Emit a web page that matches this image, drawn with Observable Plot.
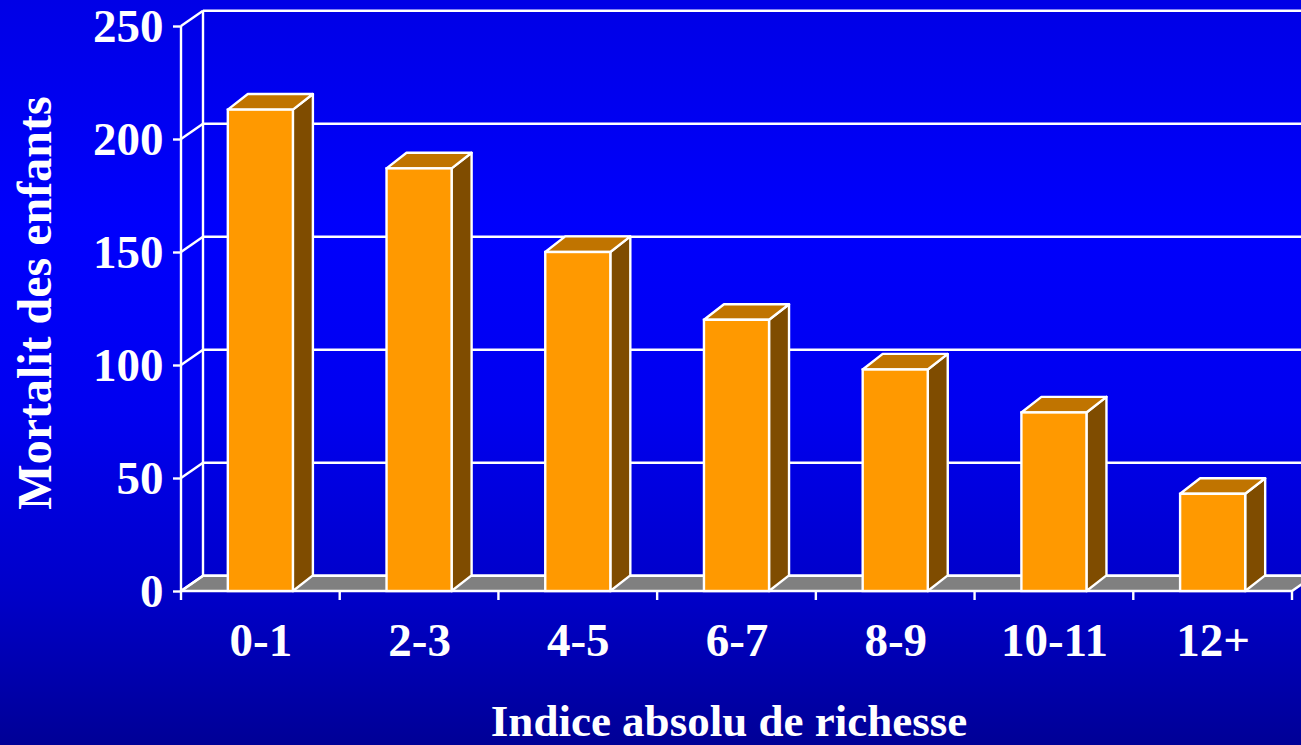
<!DOCTYPE html>
<html>
<head>
<meta charset="utf-8">
<script src="https://cdn.jsdelivr.net/npm/d3@7"></script>
<script src="https://cdn.jsdelivr.net/npm/@observablehq/plot@0.6"></script>
<style>
  html, body { margin: 0; padding: 0; width: 1301px; height: 745px; overflow: hidden; }
  body { background: linear-gradient(to bottom, #0000e6 0%, #0000fc 30%, #0000f0 55%, #0000c8 80%, #000096 100%); }
  #chart svg { display: block; background: transparent; }
</style>
</head>
<body>
<div id="chart"></div>
<script>
const categories = ["0-1", "2-3", "4-5", "6-7", "8-9", "10-11", "12+"];
const values = [213, 187, 150, 120, 98, 79, 43];
const yTicks = [0, 50, 100, 150, 200, 250];
const yTitle = "Mortalit des enfants";
const xTitle = "Indice absolu de richesse";

const data = categories.map((cat, i) => ({cat, value: values[i]}));

// 3D depth offsets (pixels)
const WX = 22, WY = -15.3;   // walls / floor
const BX = 20, BY = -15.6;   // bars
const FONT = "'Liberation Serif', 'Times New Roman', serif";
const SW = 2.4;

function pts(arr) { return arr.map(p => p.join(",")).join(" "); }

function frame3d(index, scales, values, dims) {
  const {x, y} = scales;
  const g = d3.create("svg:g");
  const step = x.step(), bw = x.bandwidth();
  const first = x(categories[0]) - (step - bw) / 2;
  const last = first + step * categories.length;
  const y0 = y(0), yTop = y(yTicks[yTicks.length - 1]);
  // floor
  g.append("polygon")
    .attr("points", pts([[first, y0], [last, y0], [last + WX, y0 + WY], [first + WX, y0 + WY]]))
    .attr("fill", "#808080").attr("stroke", "white").attr("stroke-width", SW).attr("stroke-linejoin", "round");
  // back wall gridlines and side wall diagonals
  for (const v of yTicks) {
    const yy = y(v);
    g.append("line").attr("x1", first + WX).attr("x2", dims.width + 60)
      .attr("y1", yy + WY).attr("y2", yy + WY)
      .attr("stroke", "white").attr("stroke-width", SW);
    g.append("line").attr("x1", first).attr("x2", first + WX)
      .attr("y1", yy).attr("y2", yy + WY)
      .attr("stroke", "white").attr("stroke-width", SW);
  }
  // back wall vertical edge
  g.append("line").attr("x1", first + WX).attr("x2", first + WX)
    .attr("y1", yTop + WY).attr("y2", y0 + WY)
    .attr("stroke", "white").attr("stroke-width", SW);
  // front axis vertical line
  g.append("line").attr("x1", first).attr("x2", first)
    .attr("y1", yTop).attr("y2", y0)
    .attr("stroke", "white").attr("stroke-width", SW);
  // category boundary ticks
  for (let i = 0; i <= categories.length; i++) {
    const xx = first + i * step;
    g.append("line").attr("x1", xx).attr("x2", xx)
      .attr("y1", y0).attr("y2", y0 + 9)
      .attr("stroke", "white").attr("stroke-width", SW);
  }
  return g.node();
}

function barFaces(index, scales) {
  const {x, y} = scales;
  const g = d3.create("svg:g");
  const bw = x.bandwidth();
  const y0 = y(0);
  for (const d of data) {
    const x0 = x(d.cat), x1 = x0 + bw, yv = y(d.value);
    // side face
    g.append("polygon")
      .attr("points", pts([[x1, y0], [x1, yv], [x1 + BX, yv + BY], [x1 + BX, y0 + BY]]))
      .attr("fill", "#7f4c00").attr("stroke", "white").attr("stroke-width", SW).attr("stroke-linejoin", "round");
    // top face
    g.append("polygon")
      .attr("points", pts([[x0, yv], [x1, yv], [x1 + BX, yv + BY], [x0 + BX, yv + BY]]))
      .attr("fill", "#c07400").attr("stroke", "white").attr("stroke-width", SW).attr("stroke-linejoin", "round");
  }
  return g.node();
}

const chart = Plot.plot({
  width: 1301,
  height: 745,
  marginLeft: 181,
  marginRight: 9,
  marginTop: 26,
  marginBottom: 154,
  style: {background: "transparent", color: "white", fontFamily: FONT},
  x: {domain: categories, paddingInner: 0.59, paddingOuter: 0.295, round: false},
  y: {domain: [0, 250]},
  marks: [
    frame3d,
    barFaces,
    Plot.barY(data, {x: "cat", y: "value", fill: "#ff9900", stroke: "white", strokeWidth: SW}),
    Plot.axisY({ticks: yTicks, tickSize: 8, tickPadding: 10, fontSize: 47, fontWeight: "bold", fontFamily: FONT, label: null, strokeWidth: SW}),
    Plot.axisX({tickSize: 0, tickPadding: 31, fontSize: 47, fontWeight: "bold", fontFamily: FONT, label: null}),
    Plot.text([yTitle], {frameAnchor: "left", textAnchor: "middle", lineAnchor: "middle", dx: -146, dy: -6, rotate: -90, fontSize: 48, fontWeight: "bold", fontFamily: FONT, fill: "white"}),
    Plot.text([xTitle], {frameAnchor: "bottom", textAnchor: "middle", lineAnchor: "middle", dx: -8, dy: 130, fontSize: 45, fontWeight: "bold", fontFamily: FONT, fill: "white"})
  ]
});
document.getElementById("chart").appendChild(chart);
</script>
</body>
</html>
